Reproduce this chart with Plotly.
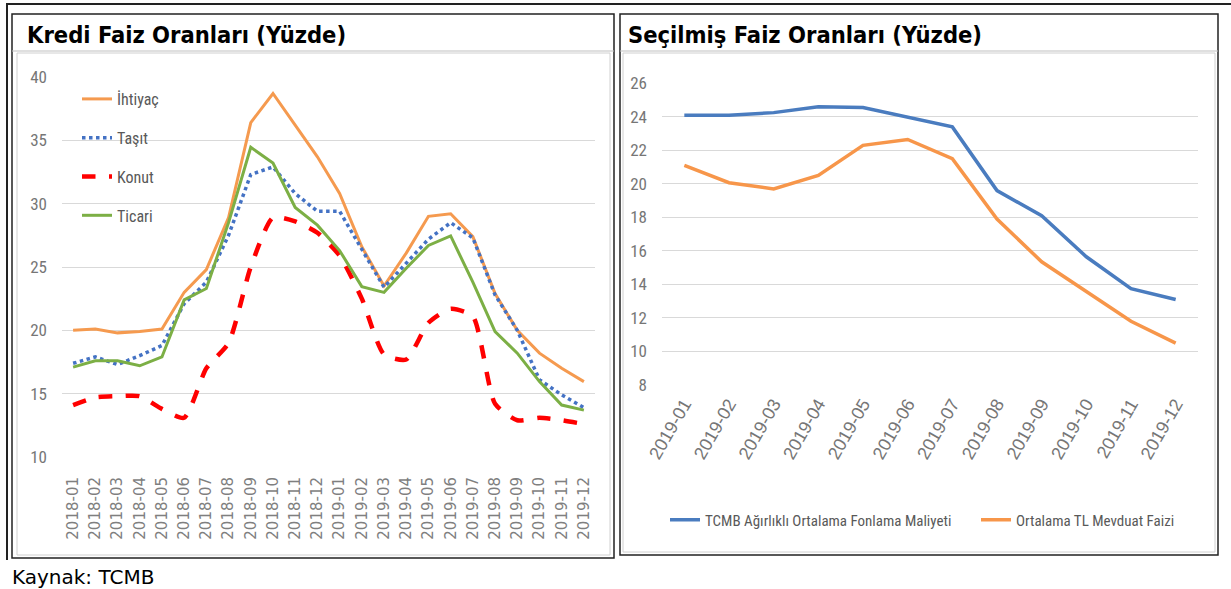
import plotly.graph_objects as go

W, H = 1231, 589

# ---------------- data ----------------
left_months = [f"{y}-{m:02d}" for y in (2018, 2019) for m in range(1, 13)]
right_months = [f"2019-{m:02d}" for m in range(1, 13)]

ihtiyac = [20.0, 20.1, 19.8, 19.9, 20.1, 23.0, 24.8, 28.9, 36.4, 38.7, 36.2, 33.7,
           30.8, 26.6, 23.5, 26.1, 29.0, 29.2, 27.4, 22.9, 20.0, 18.2, 17.0, 15.95]
tasit = [17.4, 17.9, 17.3, 18.0, 18.8, 22.1, 23.8, 27.5, 32.3, 32.9, 30.8, 29.4,
         29.4, 26.4, 23.4, 25.3, 27.2, 28.5, 27.3, 22.8, 20.0, 16.1, 14.9, 13.9]
konut = [14.1, 14.7, 14.8, 14.8, 13.8, 13.1, 17.0, 19.0, 25.0, 28.9, 28.6, 27.7,
         25.9, 22.5, 18.1, 17.7, 20.6, 21.7, 21.1, 14.2, 12.9, 13.1, 12.9, 12.6]
ticari = [17.1, 17.6, 17.6, 17.2, 17.9, 22.4, 23.3, 28.5, 34.45, 33.2, 29.7, 28.3,
          26.3, 23.45, 23.0, 24.9, 26.7, 27.45, 23.8, 19.9, 18.2, 15.95, 14.1, 13.7]

tcmb = [24.1, 24.1, 24.25, 24.6, 24.55, 24.0, 23.4, 19.6, 18.1, 15.65, 13.75, 13.1]
mevduat = [21.1, 20.07, 19.7, 20.5, 22.3, 22.65, 21.5, 17.9, 15.35, 13.55, 11.8, 10.5]

left_title = "Kredi Faiz Oranları (Yüzde)"
right_title = "Seçilmiş Faiz Oranları (Yüzde)"
source_text = "Kaynak: TCMB"

# ---------------- helpers ----------------
def px(x):
    return x / W

def py(y):
    return 1 - y / H

NARROW = "Liberation Sans Narrow, Roboto Condensed, Arial Narrow, sans-serif"
GREY = "#595959"
TICKGREY = "#767676"
GRID = "#D9D9D9"

fig = go.Figure()

# Left chart traces
fig.add_trace(go.Scatter(x=left_months, y=ihtiyac, name="İhtiyaç", mode="lines",
                         line=dict(color="#F59A4F", width=3), legendgroup="a",
                         xaxis="x", yaxis="y", legend="legend"))
fig.add_trace(go.Scatter(x=left_months, y=tasit, name="Taşıt", mode="lines",
                         line=dict(color="#4472C4", width=3.5, dash="dot"), legendgroup="b",
                         xaxis="x", yaxis="y", legend="legend"))
fig.add_trace(go.Scatter(x=left_months, y=konut, name="Konut", mode="lines",
                         line=dict(color="#FF0000", width=4.5, dash="dash", shape="spline", smoothing=0.6),
                         legendgroup="c", xaxis="x", yaxis="y", legend="legend"))
fig.add_trace(go.Scatter(x=left_months, y=ticari, name="Ticari", mode="lines",
                         line=dict(color="#7CAF45", width=3), legendgroup="d",
                         xaxis="x", yaxis="y", legend="legend"))

# Right chart traces
fig.add_trace(go.Scatter(x=right_months, y=tcmb, name="TCMB Ağırlıklı Ortalama Fonlama Maliyeti",
                         mode="lines", line=dict(color="#4A7CBF", width=3.5),
                         xaxis="x2", yaxis="y2", legend="legend2"))
fig.add_trace(go.Scatter(x=right_months, y=mevduat, name="Ortalama TL Mevduat Faizi",
                         mode="lines", line=dict(color="#F7964A", width=3.5),
                         xaxis="x2", yaxis="y2", legend="legend2"))

# ---------------- frames ----------------
shapes = []
def rect(x0, y0, x1, y1, color, width):
    shapes.append(dict(type="rect", xref="paper", yref="paper", x0=px(x0), x1=px(x1),
                       y0=py(y1), y1=py(y0), line=dict(color=color, width=width), layer="below"))

def hline(x0, x1, y, color, width):
    shapes.append(dict(type="line", xref="paper", yref="paper", x0=px(x0), x1=px(x1),
                       y0=py(y), y1=py(y), line=dict(color=color, width=width)))

def vline(x, y0, y1, color, width):
    shapes.append(dict(type="line", xref="paper", yref="paper", x0=px(x), x1=px(x),
                       y0=py(y0), y1=py(y1), line=dict(color=color, width=width)))

hline(6, 1231, 4, "#222", 2)
vline(7, 4, 560, "#222", 2)
rect(12, 14, 614, 558, "#222", 1.5)
rect(17, 53, 610, 555, "#D0D0D0", 1)
hline(12, 614, 51, "#BFBFBF", 1)
rect(620, 14, 1218, 555, "#222", 1.5)
rect(623, 53, 1215, 552, "#D0D0D0", 1)
hline(620, 1218, 51, "#BFBFBF", 1)

annotations = [
    dict(text=f"<b>{left_title}</b>", x=px(25), y=py(35), xref="paper", yref="paper",
         xanchor="left", yanchor="middle", showarrow=False,
         font=dict(family="DejaVu Sans Condensed, DejaVu Sans", size=23.5, color="#000")),
    dict(text=f"<b>{right_title}</b>", x=px(626), y=py(35), xref="paper", yref="paper",
         xanchor="left", yanchor="middle", showarrow=False,
         font=dict(family="DejaVu Sans Condensed, DejaVu Sans", size=23.5, color="#000")),
    dict(text=source_text, x=px(10), y=py(577), xref="paper", yref="paper",
         xanchor="left", yanchor="middle", showarrow=False,
         font=dict(family="DejaVu Sans", size=20, color="#000")),
]

fig.update_layout(
    width=W, height=H,
    margin=dict(l=0, r=0, t=0, b=0, pad=0, autoexpand=False),
    paper_bgcolor="white", plot_bgcolor="white",
    shapes=shapes, annotations=annotations,
    xaxis=dict(domain=[px(62), px(595)], type="category", range=[-0.5, 23.5],
               showgrid=False, showline=False, zeroline=False, tickangle=-90,
               ticks="", ticklabelstandoff=16, automargin=False, anchor="y",
               tickfont=dict(family="DejaVu Sans", size=15, color="#7F7F7F")),
    yaxis=dict(domain=[py(457), py(77)], range=[10, 40], dtick=5, showgrid=True,
               gridcolor=GRID, gridwidth=1.2, zeroline=False, showline=False,
               ticks="", ticklabelstandoff=14, automargin=False, anchor="x",
               tickfont=dict(family=NARROW, size=17, color=TICKGREY)),
    xaxis2=dict(domain=[px(662), px(1198)], type="category", range=[-0.5, 11.5],
                showgrid=False, showline=False, zeroline=False, tickangle=-60,
                ticks="", ticklabelstandoff=4, automargin=False, anchor="y2",
                tickfont=dict(family="Liberation Sans, Arial, sans-serif", size=18, color=TICKGREY)),
    yaxis2=dict(domain=[py(385), py(83.3)], range=[8, 26], dtick=2, showgrid=True,
                gridcolor=GRID, gridwidth=1.2, zeroline=False, showline=False,
                ticks="", ticklabelstandoff=14, automargin=False, anchor="x2",
                tickfont=dict(family=NARROW, size=17, color=TICKGREY)),
    legend=dict(x=px(77), y=py(82), xanchor="left", yanchor="top",
                bgcolor="rgba(255,255,255,0)", tracegroupgap=15,
                font=dict(family=NARROW, size=16, color=GREY)),
    legend2=dict(orientation="h", x=px(665), y=py(520), xanchor="left", yanchor="middle",
                 bgcolor="rgba(255,255,255,0)", entrywidth=266, entrywidthmode="pixels",
                 font=dict(family=NARROW, size=15, color=GREY)),
    showlegend=True,
)

fig.write_html("out.html", config={"displayModeBar": False},
               post_script="document.body.style.margin='0px';document.body.style.overflow='hidden';")
